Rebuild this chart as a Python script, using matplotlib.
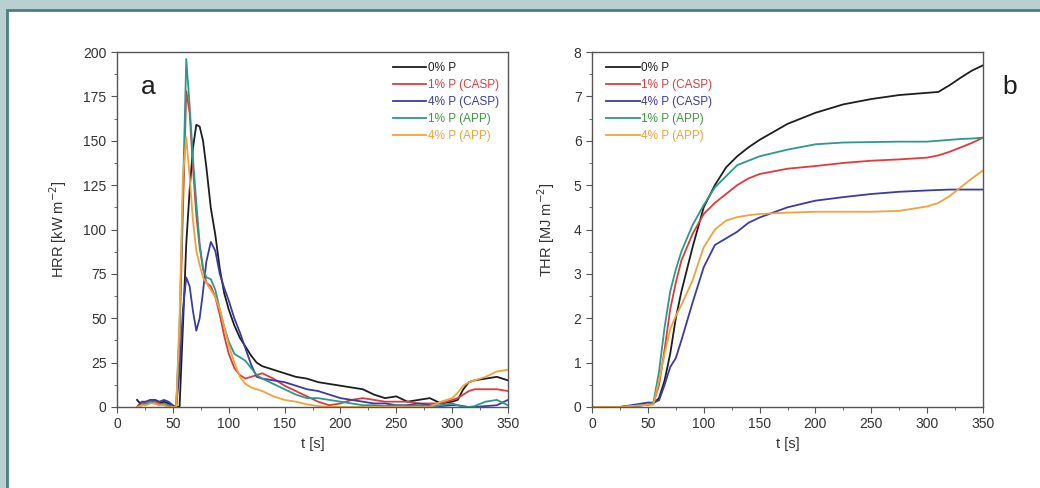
import matplotlib
matplotlib.use("Agg")
import matplotlib.pyplot as plt
from matplotlib.patches import Rectangle

plt.rcParams["font.family"] = ["Liberation Sans", "DejaVu Sans"]

labels = ["0% P", "1% P (CASP)", "4% P (CASP)", "1% P (APP)", "4% P (APP)"]
line_colors = ["#1e1e1e", "#e23a3a", "#3b3ba6", "#2a9a8c", "#f2a23a"]
text_colors = ["#1e1e1e", "#e23a3a", "#3b3ba6", "#3d9a3d", "#f2a23a"]

# panel a: heat release rate [kW m-2]
t_hrr = [18, 22, 26, 30, 34, 38, 42, 46, 50, 53, 56, 59, 62, 65, 68, 71, 74, 77, 80,
         84, 88, 92, 96, 100, 105, 110, 115, 120, 125, 130, 140, 150, 160, 170, 180,
         190, 200, 210, 220, 230, 240, 250, 260, 270, 280, 290, 300, 305, 310, 315,
         320, 330, 340, 350]
hrr_0p = [4, 1, 2, 3, 4, 2, 3, 2, 0, 0, 0, 45, 92, 122, 146, 159, 158, 150, 135,
          112, 97, 78, 64, 55, 46, 39, 34, 29, 25, 23, 21, 19, 17, 16, 14,
          13, 12, 11, 10, 7, 5, 6, 3, 4, 5, 2, 3, 4, 10, 14,
          15, 16, 17, 15]
hrr_1casp = [0, 2, 3, 4, 3, 2, 1, 1, 0, 0, 40, 110, 178, 166, 135, 108, 90, 78, 70,
             68, 62, 52, 40, 30, 22, 18, 16, 17, 18, 19, 16, 12, 9, 6, 3,
             1, 2, 4, 5, 4, 3, 3, 3, 2, 2, 2, 4, 5, 7, 9,
             10, 10, 10, 9]
hrr_4casp = [0, 3, 3, 4, 4, 3, 4, 3, 1, 0, 20, 55, 73, 68, 54, 43, 50, 65, 82,
             93, 88, 75, 67, 60, 50, 42, 33, 24, 17, 16, 15, 14, 12, 10, 9,
             7, 5, 4, 3, 2, 2, 1, 1, 2, 1, 0.5, 1, 1, 0.5, 0,
             0, 0.5, 1, 4]
hrr_1app = [0, 1, 2, 3, 2, 1, 2, 1, 0, 0, 45, 120, 196, 170, 140, 115, 92, 78, 73,
            72, 66, 55, 45, 37, 30, 28, 26, 22, 18, 16, 13, 10, 7, 5, 5,
            4, 3, 2, 1, 1, 0.5, 1, 0.5, 1, 0.5, 1, 2, 1, 0, 0,
            0.5, 3, 4, 1]
hrr_4app = [0, 1, 1, 2, 2, 1, 1, 0, 0, 0, 50, 130, 152, 130, 105, 88, 80, 73, 70,
            66, 62, 55, 45, 35, 25, 17, 13, 11, 10, 9, 6, 4, 3, 1.5, 0.5,
            0, 0, 0, 0, 0, 0, 0, 0, 0, 0, 3, 5, 8, 12, 14,
            15, 17, 20, 21]

# panel b: total heat release [MJ m-2]
t_thr = [0, 25, 50, 55, 60, 65, 70, 75, 80, 90, 100, 110, 120, 130, 140, 150, 175,
         200, 225, 250, 275, 300, 310, 320, 330, 340, 350]
thr_0p = [0, 0, 0.05, 0.08, 0.2, 0.6, 1.2, 2.0, 2.6, 3.6, 4.5, 5.0, 5.4, 5.65, 5.85,
          6.02, 6.38, 6.63, 6.82, 6.94, 7.03, 7.08, 7.1, 7.25, 7.42, 7.58, 7.7]
thr_1casp = [0, 0, 0.05, 0.08, 0.5, 1.3, 2.2, 2.8, 3.3, 3.9, 4.35, 4.6, 4.8, 5.0, 5.15,
             5.25, 5.37, 5.43, 5.5, 5.55, 5.58, 5.62, 5.67, 5.75, 5.85, 5.95, 6.07]
thr_4casp = [0, 0, 0.1, 0.1, 0.15, 0.5, 0.9, 1.1, 1.5, 2.35, 3.15, 3.65, 3.8, 3.95, 4.15,
             4.27, 4.5, 4.65, 4.73, 4.8, 4.85, 4.88, 4.89, 4.9, 4.9, 4.9, 4.9]
thr_1app = [0, 0, 0.05, 0.1, 0.8, 1.8, 2.6, 3.1, 3.5, 4.1, 4.55, 4.95, 5.2, 5.45, 5.55,
            5.65, 5.8, 5.92, 5.96, 5.97, 5.98, 5.98, 6.0, 6.02, 6.04, 6.05, 6.07]
thr_4app = [0, 0, 0.05, 0.05, 0.6, 1.2, 1.75, 2.05, 2.3, 2.85, 3.6, 4.0, 4.2, 4.28, 4.32,
            4.35, 4.38, 4.4, 4.4, 4.4, 4.42, 4.52, 4.6, 4.75, 4.95, 5.15, 5.33]

hrr_series = [hrr_0p, hrr_1casp, hrr_4casp, hrr_1app, hrr_4app]
thr_series = [thr_0p, thr_1casp, thr_4casp, thr_1app, thr_4app]

fig = plt.figure(figsize=(10.4, 4.88), dpi=100, facecolor="#b9d0d2")
fig.patches.append(Rectangle((7 / 1040, -0.1), 1.2, (488 - 10) / 488 + 0.1,
                             transform=fig.transFigure, facecolor="white",
                             edgecolor="#4d7f80", linewidth=2, zorder=-5))

ax_a = fig.add_axes([117 / 1040, 81 / 488, 391 / 1040, 355 / 488])
ax_b = fig.add_axes([592 / 1040, 81 / 488, 391 / 1040, 355 / 488])


def style_axis(ax):
    for spine in ax.spines.values():
        spine.set_color("#555555")
        spine.set_linewidth(1.0)
    ax.tick_params(which="both", direction="out", colors="#555555", labelcolor="#333333",
                   labelsize=10, top=False, right=False)
    ax.tick_params(which="major", length=4)
    ax.tick_params(which="minor", length=2.5)
    ax.set_xlim(0, 350)
    ax.set_xticks(range(0, 351, 50))
    ax.set_xticks(range(25, 351, 50), minor=True)
    ax.set_xlabel("t [s]", fontsize=10.5, color="#333333", labelpad=4)


def add_legend(ax, loc, anchor):
    leg = ax.legend(loc=loc, bbox_to_anchor=anchor, frameon=False, fontsize=8.5,
                    handlelength=2.8, handletextpad=0.15, labelspacing=0.42,
                    borderaxespad=0)
    for txt, col in zip(leg.get_texts(), text_colors):
        txt.set_color(col)


for ys, col, lab in zip(hrr_series, line_colors, labels):
    ax_a.plot(t_hrr, ys, color=col, lw=1.3, label=lab)
style_axis(ax_a)
ax_a.set_ylim(0, 200)
ax_a.set_yticks(range(0, 201, 25))
ax_a.set_yticks([12.5 + 25 * i for i in range(8)], minor=True)
ax_a.set_ylabel("HRR [kW m$^{-2}$]", fontsize=10.5, color="#333333", labelpad=10)
ax_a.text(0.06, 0.9, "a", transform=ax_a.transAxes, fontsize=19, color="#1e1e1e",
          ha="left", va="center")
add_legend(ax_a, "upper right", (0.99, 0.985))

for ys, col, lab in zip(thr_series, line_colors, labels):
    ax_b.plot(t_thr, ys, color=col, lw=1.3, label=lab)
style_axis(ax_b)
ax_b.set_ylim(0, 8)
ax_b.set_yticks(range(0, 9))
ax_b.set_yticks([0.5 + i for i in range(8)], minor=True)
ax_b.set_ylabel("THR [MJ m$^{-2}$]", fontsize=10.5, color="#333333", labelpad=12)
ax_b.text(1.05, 0.9, "b", transform=ax_b.transAxes, fontsize=19, color="#1e1e1e",
          ha="left", va="center")
add_legend(ax_b, "upper left", (0.025, 0.985))

fig.savefig("out.png", dpi=100, facecolor=fig.get_facecolor())
